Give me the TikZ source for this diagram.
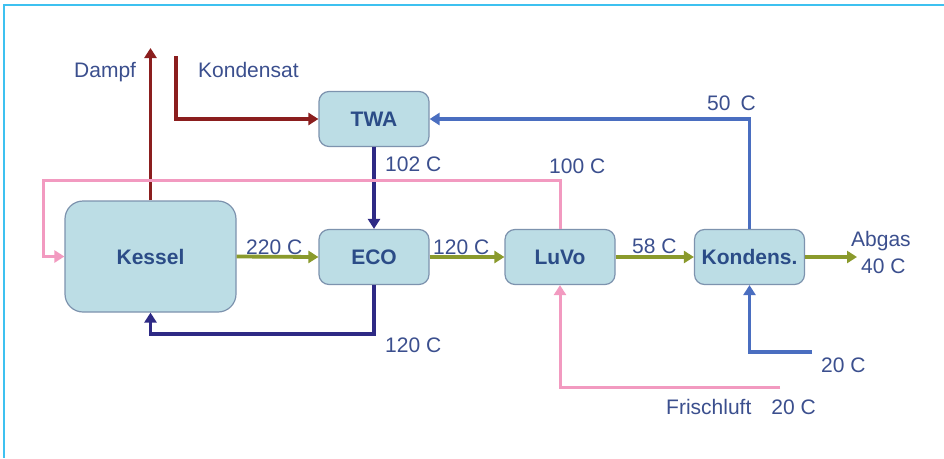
\documentclass[tikz,border=0pt]{standalone}
\usepackage{fontspec}
\setmainfont{Liberation Sans}
\usetikzlibrary{arrows.meta}
\definecolor{frame}{HTML}{3EC1F0}
\definecolor{boxfill}{HTML}{BCDDE5}
\definecolor{boxdraw}{HTML}{7D93AE}
\definecolor{boxtext}{HTML}{2B4C87}
\definecolor{labtext}{HTML}{3B4F8E}
\definecolor{dred}{HTML}{8B1E1E}
\definecolor{olive}{HTML}{8A9A2C}
\definecolor{navy}{HTML}{2E2A85}
\definecolor{lblue}{HTML}{4A6EC0}
\definecolor{pinkc}{HTML}{F29AC0}
\tikzset{
  unit/.style={draw=boxdraw, line width=1.2pt, fill=boxfill, rounded corners=10pt,
    minimum width=110pt, minimum height=55pt, inner sep=0pt,
    font=\fontsize{21}{25}\selectfont\bfseries, text=boxtext},
  lab/.style={font=\fontsize{21}{25}\selectfont, text=labtext, inner sep=0pt, anchor=base west},
  flow/.style={line width=3.8pt, -{Triangle[length=10pt,width=12pt]}},
}
\begin{document}
\begin{tikzpicture}[x=1pt,y=-1pt]
\useasboundingbox (0,0) rectangle (944,458);
\fill[white] (0,0) rectangle (944,458);
\draw[frame, line width=2pt] (944,5) -- (4,5) -- (4,458);

% units
\node[unit, minimum width=171pt, minimum height=111pt, rounded corners=18pt] (kessel) at (150.5,256.5) {Kessel};
\node[unit] (twa) at (374,119) {TWA};
\node[unit] (eco) at (374,257) {ECO};
\node[unit] (luvo) at (560,257) {LuVo};
\node[unit] (kond) at (749.5,257) {Kondens.};

% coordinates
\coordinate (dampf) at (150.5,48);
\coordinate (kondsat) at (176,56);
\coordinate (ret) at (150.5,334);
\coordinate (pk) at (43,180);
\coordinate (abg) at (857,257);
\coordinate (cw) at (812,352);
\coordinate (fl) at (780,387);

% steam / condensate
\draw[flow, dred] (kessel.north) -- (dampf);
\draw[flow, dred] (kondsat) |- (twa.west);

% feed water
\draw[flow, navy] (twa.south) -- (eco.north);
\draw[flow, navy] (eco.south) |- (ret) -- (kessel.south);

% cooling water
\draw[flow, lblue] (kond.north) |- (twa.east);
\draw[flow, lblue] (cw) -| (kond.south);

% air
\draw[flow, pinkc, line width=3pt] (luvo.north) |- (pk) |- (kessel.west);
\draw[flow, pinkc, line width=3pt] (fl) -| (luvo.south);

% flue gas
\draw[flow, olive] (kessel.east) -- (eco.west);
\draw[flow, olive] (eco.east) -- (luvo.west);
\draw[flow, olive] (luvo.east) -- (kond.west);
\draw[flow, olive] (kond.east) -- (abg);

% labels
\node[lab] (l1) at (74,77) {Dampf};
\node[lab] (l2) at (198,77) {Kondensat};
\node[lab] (l3) at (385,171) {102 C};
\node[lab] (l4) at (549,173) {100 C};
\node[lab] (l5) at (707,110) {50\hspace{10pt}C};
\node[lab] (l6) at (246,254) {220 C};
\node[lab] (l7) at (433,254) {120 C};
\node[lab] (l8) at (632,253) {58 C};
\node[lab] (l9) at (851,246) {Abgas};
\node[lab] (l10) at (861,273) {40 C};
\node[lab] (l11) at (385,352) {120 C};
\node[lab] (l12) at (821,372) {20 C};
\node[lab] (l13) at (666,414) {Frischluft\hspace{20pt}20 C};
\end{tikzpicture}
\end{document}
